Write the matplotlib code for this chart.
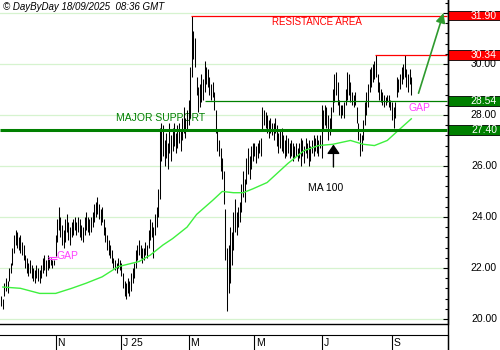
import numpy as np
import pandas as pd
import matplotlib
matplotlib.use('Agg')
import matplotlib.pyplot as plt
from matplotlib.patches import Rectangle
from matplotlib.lines import Line2D
from matplotlib.ticker import MultipleLocator
from matplotlib.transforms import blended_transform_factory

plt.rcParams['font.family'] = ['Liberation Sans', 'DejaVu Sans']

# trading calendar (Euronext holidays removed)
holidays = ['2024-12-25', '2024-12-26', '2025-01-01', '2025-04-18', '2025-04-21', '2025-05-01']
days = pd.bdate_range('2024-09-16', '2025-09-17')
days = days[~days.isin(pd.to_datetime(holidays))]

lows = [20.5, 20.4, 20.9, 21.1, 21.0, 21.5, 21.8, 22.1, 22.6, 22.9,
        22.8, 22.7, 22.6, 22.5, 22.3, 22.0, 21.8, 21.7, 21.8, 21.6,
        21.5, 21.4, 21.6, 21.5, 21.4, 21.6, 21.8, 21.9, 21.7, 21.9,
        22.0, 22.1, 22.0, 22.1, 22.45, 23.0, 23.5, 23.2, 22.9, 22.8,
        23.0, 23.4, 23.1, 22.9, 23.2, 23.3, 23.5, 23.3, 23.4, 23.2,
        23.1, 23.0, 23.3, 23.5, 23.4, 23.3, 23.4, 23.6, 23.8, 24.0,
        24.1, 23.9, 23.7, 23.8, 23.3, 23.0, 22.7, 22.5, 22.4, 22.2,
        22.0, 21.9, 21.8, 22.0, 21.9, 21.7, 21.2, 20.9, 20.8, 21.0,
        20.9, 21.1, 21.4, 21.6, 22.0, 22.3, 22.5, 22.4, 22.2, 22.3,
        22.5, 22.4, 22.8, 23.1, 23.2, 22.4, 23.3, 23.6, 24.0, 24.7,
        26.2, 26.4, 26.0, 26.3, 25.9, 26.5, 26.2, 26.6, 26.8, 26.5,
        26.7, 26.9, 26.6, 27.0, 27.3, 27.1, 27.4, 27.6, 27.9, 29.5,
        30.2, 29.9, 28.8, 28.1, 28.3, 28.5, 28.6, 28.9, 29.2, 29.1,
        28.8, 28.6, 28.7, 28.2, 27.3, 26.6, 26.4, 25.8, 25.5, 24.5,
        22.3, 20.3, 21.0, 21.4, 22.1, 22.7, 23.4, 23.3, 23.6, 23.8,
        24.2, 24.8, 24.6, 25.3, 25.7, 25.5, 25.9, 26.2, 26.4, 26.1,
        26.3, 26.5, 26.4, 27.4, 27.6, 27.5, 27.3, 27.1, 27.3, 27.2,
        27.0, 27.3, 26.8, 26.5, 26.7, 26.6, 26.5, 26.3, 26.4, 26.5,
        26.3, 26.4, 26.2, 26.3, 26.4, 26.2, 26.3, 26.0, 26.4, 26.1,
        26.5, 26.3, 26.0, 26.2, 26.5, 26.4, 26.6, 26.5, 26.4, 26.7,
        26.3, 27.4, 27.6, 27.5, 27.0, 27.2, 27.4, 28.1, 28.5, 28.8,
        28.4, 28.0, 27.9, 28.0, 27.9, 28.4, 28.6, 28.8, 28.5, 28.4,
        28.3, 28.4, 27.7, 27.0, 26.4, 26.6, 27.0, 27.6, 28.0, 28.3,
        28.9, 29.1, 29.3, 29.4, 29.5, 28.9, 28.6, 28.5, 28.4, 28.3,
        28.4, 28.5, 28.3, 28.2, 27.8, 27.5, 27.9, 28.7, 28.9, 29.0,
        29.2, 29.4, 29.5, 29.1, 28.9, 29.2, 28.8]

highs = [20.9, 20.8, 21.4, 21.6, 21.5, 22.0, 22.2, 22.8, 23.3, 23.5,
         23.4, 23.2, 23.3, 23.0, 22.9, 22.5, 22.4, 22.2, 22.3, 22.1,
         22.0, 21.9, 22.1, 22.0, 21.9, 22.1, 22.4, 22.5, 22.3, 22.5,
         22.4, 22.4, 22.3, 22.3, 23.3, 23.9, 24.4, 24.0, 23.7, 23.5,
         23.9, 24.1, 23.8, 23.6, 23.8, 23.9, 24.0, 23.8, 24.0, 23.9,
         23.7, 23.6, 24.0, 24.2, 24.0, 23.9, 24.0, 24.2, 24.5, 24.6,
         24.8, 24.5, 24.3, 24.4, 23.9, 23.6, 23.3, 23.1, 22.9, 22.7,
         22.4, 22.3, 22.2, 22.4, 22.3, 22.2, 21.8, 21.5, 21.4, 21.6,
         21.5, 21.8, 22.0, 22.2, 22.7, 22.9, 23.1, 22.9, 22.8, 22.8,
         23.0, 22.9, 23.5, 23.9, 23.8, 23.6, 24.1, 24.4, 25.1, 27.5,
         27.7, 27.6, 27.0, 27.3, 26.9, 27.7, 27.2, 27.5, 27.7, 27.3,
         27.6, 27.7, 27.4, 27.9, 28.3, 27.9, 28.2, 28.6, 29.9, 31.9,
         31.3, 31.0, 29.5, 29.1, 29.2, 29.6, 29.4, 30.1, 29.9, 29.8,
         29.5, 29.2, 29.3, 28.9, 28.2, 27.4, 27.0, 26.7, 26.3, 25.8,
         24.3, 22.8, 22.9, 23.6, 23.4, 24.2, 24.7, 24.2, 24.4, 24.6,
         25.3, 25.8, 25.5, 26.3, 26.7, 26.4, 26.8, 26.9, 26.9, 26.8,
         26.9, 27.0, 27.1, 28.3, 28.2, 28.1, 28.0, 27.8, 27.9, 27.7,
         27.7, 27.9, 27.6, 27.3, 27.4, 27.5, 27.2, 27.0, 27.2, 27.1,
         26.9, 27.0, 26.9, 26.8, 26.9, 26.7, 26.9, 27.1, 27.0, 26.8,
         27.1, 26.9, 27.0, 26.8, 27.0, 27.2, 27.1, 27.2, 27.0, 27.2,
         28.4, 28.2, 28.4, 28.3, 28.0, 27.9, 28.3, 29.0, 29.6, 29.7,
         29.3, 28.6, 28.4, 28.4, 28.5, 29.0, 29.7, 29.6, 29.3, 28.9,
         28.8, 28.9, 28.3, 27.7, 27.3, 27.2, 27.8, 28.5, 28.9, 29.2,
         29.8, 29.9, 30.0, 30.1, 30.34, 29.6, 29.3, 29.0, 28.9, 28.8,
         28.7, 28.8, 28.8, 28.6, 28.5, 28.3, 28.5, 29.5, 29.4, 29.6,
         29.9, 30.0, 30.34, 29.8, 29.6, 29.8, 29.5]

ma_dates = ['2024-09-17', '2024-10-02', '2024-10-18', '2024-11-01', '2024-11-15',
            '2024-11-28', '2024-12-12', '2024-12-30', '2025-01-17', '2025-01-28',
            '2025-02-07', '2025-02-17', '2025-02-28', '2025-03-10', '2025-03-24',
            '2025-04-01', '2025-04-10', '2025-04-22', '2025-04-30', '2025-05-14',
            '2025-06-02', '2025-06-16', '2025-06-27', '2025-07-10', '2025-07-25',
            '2025-08-06', '2025-08-15', '2025-08-27', '2025-09-05', '2025-09-17']
ma_values = [21.25, 21.2, 21.0, 21.0, 21.2,
             21.4, 21.65, 22.05, 22.25, 22.5,
             22.9, 23.15, 23.6, 24.1, 24.65,
             25.0, 24.95, 24.95, 25.1, 25.35,
             26.1, 26.6, 26.8, 26.85, 27.0,
             26.85, 26.8, 27.0, 27.4, 27.85]

levels = [31.90, 30.34, 28.54, 27.40]
level_colors = ['#ff0000', '#ff0000', '#008000', '#008000']
level_widths = [0.9, 0.9, 0.9, 2.2]
level_starts = ['2025-03-05', '2025-08-18', '2025-03-18', '2024-09-16']

gap_levels = [22.36, 22.44]
gap_span = ['2024-10-25', '2024-11-04']

ytick_values = [20, 22, 24, 26, 28, 30]
grid_values = [20, 22, 24, 26, 28, 30, 32]
month_starts = ['2024-11-01', '2025-01-01', '2025-03-01', '2025-05-01', '2025-07-01', '2025-09-01']
month_labels = ['N', 'J 25', 'M', 'M', 'J', 'S']


def to_x(d):
    return days.searchsorted(pd.Timestamp(d))


x = np.arange(len(lows))
xmax = 278.6
right_edge = 0.895

fig = plt.figure(figsize=(5, 3.5), dpi=100)
ax = fig.add_axes([0, 26 / 350, right_edge, 324 / 350])
ax.set_xlim(-0.75, xmax)
ax.set_ylim(19.80, 32.51)

for g in grid_values:
    ax.axhline(g, color='#d6f3cf', lw=0.9, zorder=0)

ax.text(71.7, 27.88, 'MAJOR SUPPORT', color='#008000', fontsize=7.5, va='center', zorder=1)

ax.vlines(x, lows, highs, color='black', lw=0.75, zorder=2)
ax.plot([to_x(d) for d in ma_dates], ma_values, color='#3ef03e', lw=1.0, zorder=3)

for lv, c, w, s in zip(levels, level_colors, level_widths, level_starts):
    ax.hlines(lv, to_x(s) - 0.75, xmax, color=c, lw=w, zorder=4)

ax.hlines(gap_levels, to_x(gap_span[0]), to_x(gap_span[1]), color='#ff40ff', lw=0.8, zorder=4)
ax.text(34.3, 22.47, 'GAP', color='#ff40ff', fontsize=7.5, va='center', zorder=5)
ax.text(254.3, 28.27, 'GAP', color='#ff40ff', fontsize=7.5, va='center', zorder=5)
ax.text(169.3, 31.65, 'RESISTANCE AREA', color='#ff0000', fontsize=7, va='center', zorder=5)

ax.annotate('', xy=(276.6, 32.1), xytext=(260, 28.75),
            arrowprops=dict(arrowstyle='-|>', color='#2e9a2e', lw=1.2, mutation_scale=14),
            annotation_clip=False, zorder=6)
ax.annotate('', xy=(207.4, 26.95), xytext=(207.4, 25.85),
            arrowprops=dict(arrowstyle='-|>,head_length=0.55,head_width=0.38', color='black',
                            lw=1.0, mutation_scale=10), zorder=6)
ax.text(202.4, 25.14, 'MA 100', color='black', fontsize=7.5, ha='center', va='center', zorder=6)

for sp in ['left', 'top']:
    ax.spines[sp].set_visible(False)
ax.spines['right'].set_linewidth(1.0)
ax.spines['bottom'].set_linewidth(1.0)
ax.set_xticks([])
ax.yaxis.set_major_locator(MultipleLocator(2))
ax.yaxis.set_minor_locator(MultipleLocator(0.4))
ax.tick_params(axis='y', which='both', direction='in', left=False, right=True,
               labelleft=False, labelright=False)
ax.tick_params(axis='y', which='major', length=3.6, width=0.8)
ax.tick_params(axis='y', which='minor', length=2.0, width=0.8)

trans = blended_transform_factory(fig.transFigure, ax.transData)
for v in ytick_values:
    ax.text(0.994, v, f'{v:.2f}', transform=trans, ha='right', va='center',
            fontsize=7.5, color='black', clip_on=False)
for lv, c in zip(levels, level_colors):
    ax.add_patch(Rectangle((right_edge, lv - 0.19), 1 - right_edge, 0.38, transform=trans,
                           facecolor=c, edgecolor='black', lw=0.6, clip_on=False, zorder=7))
    ax.text(0.994, lv, f'{lv:.2f}', transform=trans, ha='right', va='center',
            fontsize=7.5, color='white', clip_on=False, zorder=8)

# date strip
strip = fig.add_axes([0, 0, right_edge, 15 / 350])
strip.set_xlim(-0.75, xmax)
strip.set_ylim(0, 1)
strip.set_xticks([])
strip.set_yticks([])
for sp in ['left', 'bottom']:
    strip.spines[sp].set_visible(False)
for d, lab in zip(month_starts, month_labels):
    mx = to_x(d)
    strip.axvline(mx, color='black', lw=0.8)
    strip.text(mx + 1.2, 0.45, lab, fontsize=7.5, va='center', ha='left')

fig.add_artist(Line2D([right_edge, right_edge], [0, 1], transform=fig.transFigure,
                      color='black', lw=1.0))

fig.text(0.006, 1 - 7 / 350, '\u00a9 DayByDay 18/09/2025  08:36 GMT', style='italic',
         fontsize=7, va='center')

fig.savefig('out.png', dpi=100)
